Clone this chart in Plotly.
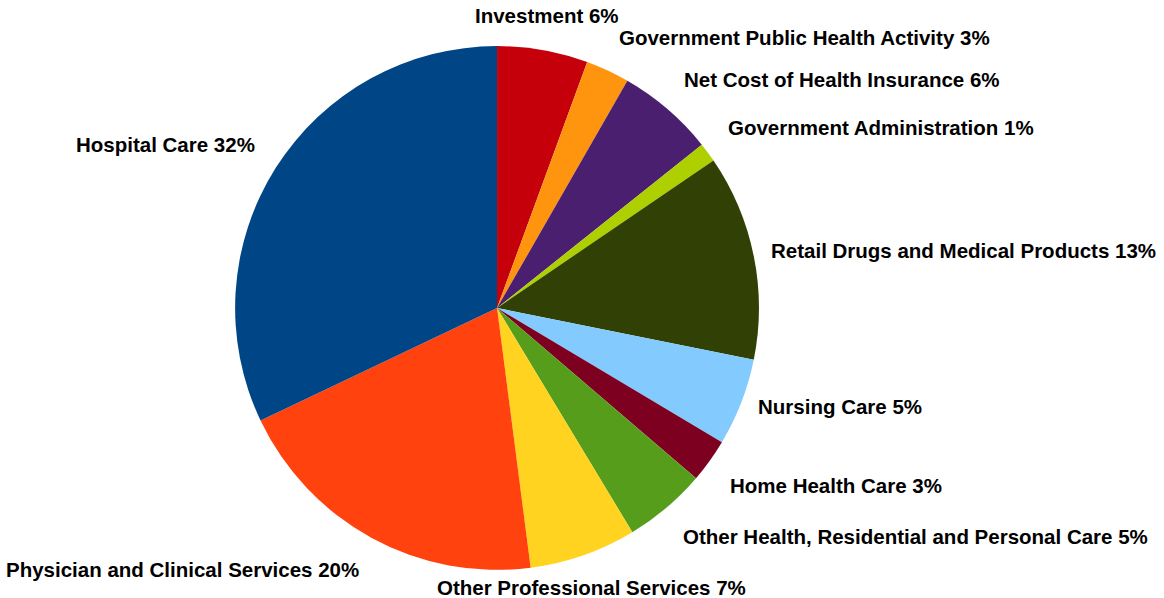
import math
import plotly.graph_objects as go

# National health expenditure shares, clockwise from 12 o'clock
categories = [
    "Investment",
    "Government Public Health Activity",
    "Net Cost of Health Insurance",
    "Government Administration",
    "Retail Drugs and Medical Products",
    "Nursing Care",
    "Home Health Care",
    "Other Health, Residential and Personal Care",
    "Other Professional Services",
    "Physician and Clinical Services",
    "Hospital Care",
]
shares = [5.6, 2.7, 6.0, 1.2, 12.7, 5.4, 2.7, 5.1, 6.6, 20.0, 32.1]
colors = [
    "#C5000B", "#FF950E", "#4B1F6F", "#AECF00", "#314004", "#83CAFF",
    "#7E0021", "#579D1C", "#FFD320", "#FF420E", "#004586",
]

W, H = 1164, 598
dom_x = [0.202, 0.652]
dom_y = [0.047, 0.923]

fig = go.Figure(
    go.Pie(
        labels=categories,
        values=shares,
        sort=False,
        direction="clockwise",
        rotation=0,
        marker=dict(colors=colors, line=dict(width=0)),
        textinfo="none",
        showlegend=False,
        hoverinfo="label+percent",
        domain=dict(x=dom_x, y=dom_y),
    )
)

# Outside labels: placed along each slice's mid-angle, just beyond the rim
radius_px = min((dom_x[1] - dom_x[0]) * W, (dom_y[1] - dom_y[0]) * H) / 2
cx = (dom_x[0] + dom_x[1]) / 2
cy = (dom_y[0] + dom_y[1]) / 2
total = sum(shares)
cum = 0.0
for name, v in zip(categories, shares):
    mid = (cum + v / 2) / total * 2 * math.pi
    cum += v
    sx, cy_up = math.sin(mid), math.cos(mid)
    xanchor = "left" if sx > 0.4 else ("right" if sx < -0.4 else "center")
    yanchor = "bottom" if cy_up > 0.5 else ("top" if cy_up < -0.5 else "middle")
    label_r = radius_px * (1.065 if yanchor == "middle" else 1.09)
    yshift = {"top": 2, "bottom": -1, "middle": 2}[yanchor]
    fig.add_annotation(
        x=cx + label_r * sx / W,
        y=cy + label_r * cy_up / H,
        xref="paper",
        yref="paper",
        xanchor=xanchor,
        yanchor=yanchor,
        yshift=yshift,
        showarrow=False,
        text=f"{name} {round(100 * v / total)}%",
        font=dict(family="Liberation Sans", size=20.5, color="#000000", weight="bold"),
        borderpad=0,
    )

fig.update_layout(
    width=W,
    height=H,
    margin=dict(l=0, r=0, t=0, b=0),
    paper_bgcolor="white",
    plot_bgcolor="white",
)

fig.write_html("out.html")
